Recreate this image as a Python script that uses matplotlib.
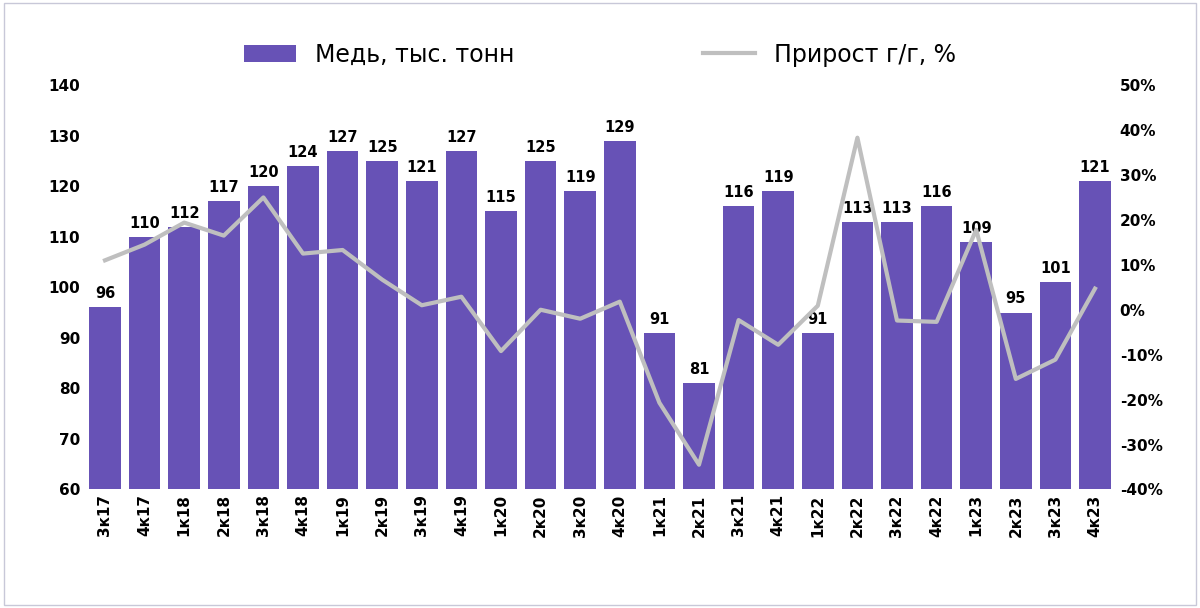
import matplotlib
matplotlib.use("Agg")
import matplotlib.pyplot as plt
from matplotlib.ticker import FuncFormatter

categories = ["3к17","4к17","1к18","2к18","3к18","4к18","1к19","2к19","3к19","4к19",
              "1к20","2к20","3к20","4к20","1к21","2к21","3к21","4к21","1к22","2к22",
              "3к22","4к22","1к23","2к23","3к23","4к23"]
copper = [96,110,112,117,120,124,127,125,121,127,115,125,119,129,91,81,116,119,91,113,113,116,109,95,101,121]
growth = [11,14.5,19.4,16.5,25,12.5,13.3,6.7,1,2.9,-9.2,0,-2,1.8,-20.7,-34.5,-2.3,-7.8,0.9,38.3,-2.4,-2.7,17.8,-15.4,-11.1,4.7]

fig = plt.figure(figsize=(12, 6.08), dpi=100)
ax = fig.add_axes([0.071, 0.195, 0.858, 0.665])
x = range(len(categories))
bars = ax.bar(x, copper, width=0.8, color="#6752B6", label="Медь, тыс. тонн", zorder=2)
ax.set_ylim(60, 140)
ax.set_xlim(-0.5, len(categories) - 0.5)
ax.set_yticks(range(60, 141, 10))
for xi, v in zip(x, copper):
    ax.text(xi, v + 1.2, str(v), ha="center", va="bottom", fontsize=10.5, fontweight="bold")
ax.set_xticks(list(x))
ax.set_xticklabels(categories, rotation=90, fontsize=11, fontweight="bold")
ax.tick_params(axis="y", labelsize=11, length=0)
ax.tick_params(axis="x", length=0)
for lab in ax.get_yticklabels():
    lab.set_fontweight("bold")
for s in ax.spines.values():
    s.set_visible(False)

ax2 = ax.twinx()
ln, = ax2.plot(list(x), growth, color="#BFBFBF", lw=3, label="Прирост г/г, %", zorder=3)
ax2.set_ylim(-40, 50)
ax2.set_yticks(range(-40, 51, 10))
ax2.yaxis.set_major_formatter(FuncFormatter(lambda v, p: f"{int(v)}%"))
ax2.tick_params(axis="y", labelsize=11, length=0)
for lab in ax2.get_yticklabels():
    lab.set_fontweight("bold")
for s in ax2.spines.values():
    s.set_visible(False)

fig.legend([bars, ln], ["Медь, тыс. тонн", "Прирост г/г, %"], loc="upper center",
           bbox_to_anchor=(0.5, 0.965), ncol=2, frameon=False, fontsize=17,
           columnspacing=8, handlelength=2.2)
fig.patches.append(plt.Rectangle((0.003, 0.005), 0.994, 0.99, transform=fig.transFigure,
                                 fill=False, edgecolor="#C8C8D8", lw=1))
fig.savefig("out.png", dpi=100)
